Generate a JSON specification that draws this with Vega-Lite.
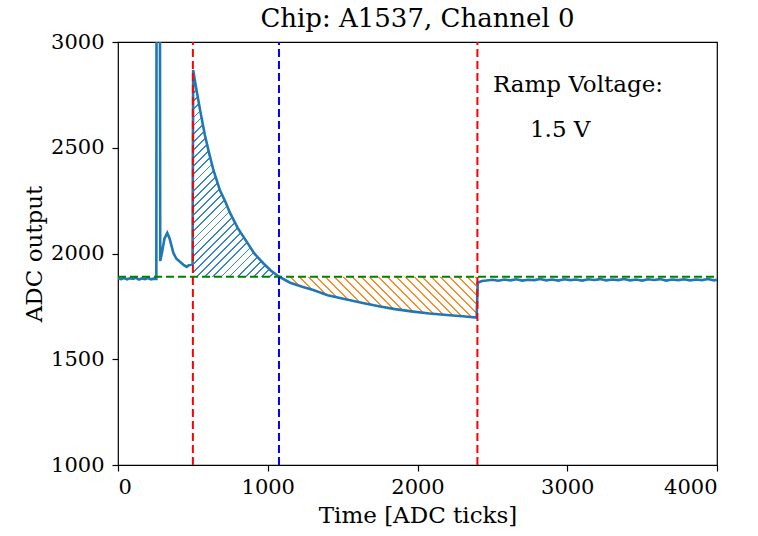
{
  "$schema": "https://vega.github.io/schema/vega-lite/v6.json",
  "width": 599,
  "height": 423,
  "autosize": {"type": "none"},
  "padding": {"left": 118, "top": 42, "right": 41, "bottom": 71},
  "background": "white",
  "config": {
    "font": "DejaVu Serif",
    "view": {"stroke": "black", "strokeWidth": 1.2},
    "axis": {"domain": false, "grid": false, "ticks": true, "tickColor": "black", "tickSize": 6, "tickWidth": 1.2,
      "labelFont": "DejaVu Serif", "labelFontSize": 21, "labelColor": "black",
      "titleFont": "DejaVu Serif", "titleFontSize": 23, "titleFontWeight": "normal", "titleColor": "black"},
    "title": {"font": "DejaVu Serif", "fontSize": 26, "fontWeight": "normal", "color": "black"}
  },
  "title": {"text": "Chip: A1537, Channel 0", "offset": 4, "dy": 5, "anchor": "middle"},
  "data": {"values": [
    {"t": 0, "v": 1882}, {"t": 20, "v": 1879}, {"t": 40, "v": 1884}, {"t": 60, "v": 1878}, {"t": 80, "v": 1883},
    {"t": 100, "v": 1880}, {"t": 120, "v": 1885}, {"t": 140, "v": 1877}, {"t": 160, "v": 1882}, {"t": 180, "v": 1879},
    {"t": 200, "v": 1884}, {"t": 220, "v": 1878}, {"t": 240, "v": 1881}, {"t": 256, "v": 1880},
    {"t": 258, "v": 3800}, {"t": 279, "v": 3800}, {"t": 282, "v": 1965},
    {"t": 295, "v": 2010}, {"t": 310, "v": 2070}, {"t": 329, "v": 2097}, {"t": 345, "v": 2070}, {"t": 370, "v": 2002},
    {"t": 390, "v": 1975}, {"t": 414, "v": 1961}, {"t": 440, "v": 1945}, {"t": 459, "v": 1937}, {"t": 474, "v": 1945},
    {"t": 498, "v": 1950},
    {"t": 502, "v": 2868}, {"t": 520, "v": 2790}, {"t": 548, "v": 2679}, {"t": 580, "v": 2560}, {"t": 610, "v": 2470},
    {"t": 637, "v": 2395}, {"t": 680, "v": 2300}, {"t": 720, "v": 2240}, {"t": 748, "v": 2192}, {"t": 800, "v": 2120},
    {"t": 859, "v": 2056}, {"t": 910, "v": 2000}, {"t": 970, "v": 1954}, {"t": 1020, "v": 1920}, {"t": 1075, "v": 1890},
    {"t": 1150, "v": 1862}, {"t": 1230, "v": 1843}, {"t": 1304, "v": 1827}, {"t": 1400, "v": 1803}, {"t": 1527, "v": 1783},
    {"t": 1650, "v": 1764}, {"t": 1750, "v": 1749}, {"t": 1850, "v": 1737}, {"t": 1972, "v": 1725}, {"t": 2080, "v": 1716},
    {"t": 2195, "v": 1709}, {"t": 2300, "v": 1703}, {"t": 2395, "v": 1697},
    {"t": 2402, "v": 1862}, {"t": 2430, "v": 1870}, {"t": 2460, "v": 1872}, {"t": 2500, "v": 1876}, {"t": 2540, "v": 1871},
    {"t": 2580, "v": 1877}, {"t": 2620, "v": 1873}, {"t": 2660, "v": 1878}, {"t": 2700, "v": 1872}, {"t": 2740, "v": 1876},
    {"t": 2780, "v": 1874}, {"t": 2820, "v": 1879}, {"t": 2860, "v": 1873}, {"t": 2900, "v": 1877}, {"t": 2940, "v": 1872},
    {"t": 2980, "v": 1878}, {"t": 3020, "v": 1874}, {"t": 3060, "v": 1877}, {"t": 3100, "v": 1872}, {"t": 3140, "v": 1878},
    {"t": 3180, "v": 1875}, {"t": 3220, "v": 1879}, {"t": 3260, "v": 1873}, {"t": 3300, "v": 1877}, {"t": 3340, "v": 1874},
    {"t": 3380, "v": 1879}, {"t": 3420, "v": 1873}, {"t": 3460, "v": 1877}, {"t": 3500, "v": 1872}, {"t": 3540, "v": 1878},
    {"t": 3580, "v": 1875}, {"t": 3620, "v": 1879}, {"t": 3660, "v": 1872}, {"t": 3700, "v": 1877}, {"t": 3740, "v": 1874},
    {"t": 3780, "v": 1878}, {"t": 3820, "v": 1873}, {"t": 3860, "v": 1877}, {"t": 3900, "v": 1874}, {"t": 3940, "v": 1879},
    {"t": 3980, "v": 1873}, {"t": 4000, "v": 1876}
  ]},
  "encoding": {
    "x": {"field": "t", "type": "quantitative", "scale": {"domain": [0, 4000], "nice": false, "zero": false},
      "axis": {"title": "Time [ADC ticks]", "values": [0, 1000, 2000, 3000, 4000], "format": "d", "labelPadding": 5, "titlePadding": 7}},
    "y": {"field": "v", "type": "quantitative", "scale": {"domain": [1000, 3000], "nice": false, "zero": false},
      "axis": {"title": "ADC output", "values": [1000, 1500, 2000, 2500, 3000], "format": "d", "labelPadding": 8, "titlePadding": 4}}
  },
  "layer": [
    {
      "transform": [{"filter": "datum.t >= 502 && datum.t <= 1075"}],
      "mark": {"type": "area", "clip": true, "strokeWidth": 0,
        "fill": {"gradient": "linear", "x1": 0, "y1": 0, "x2": 0.501, "y2": 1.207, "stops": [
{"offset":0,"color":"transparent"},{"offset":0.0217,"color":"transparent"},{"offset":0.0217,"color":"#3a87bf"},{"offset":0.0278,"color":"#3a87bf"},
{"offset":0.0278,"color":"transparent"},{"offset":0.0494,"color":"transparent"},{"offset":0.0494,"color":"#3a87bf"},{"offset":0.0556,"color":"#3a87bf"},
{"offset":0.0556,"color":"transparent"},{"offset":0.0772,"color":"transparent"},{"offset":0.0772,"color":"#3a87bf"},{"offset":0.0833,"color":"#3a87bf"},
{"offset":0.0833,"color":"transparent"},{"offset":0.105,"color":"transparent"},{"offset":0.105,"color":"#3a87bf"},{"offset":0.1111,"color":"#3a87bf"},
{"offset":0.1111,"color":"transparent"},{"offset":0.1328,"color":"transparent"},{"offset":0.1328,"color":"#3a87bf"},{"offset":0.1389,"color":"#3a87bf"},
{"offset":0.1389,"color":"transparent"},{"offset":0.1606,"color":"transparent"},{"offset":0.1606,"color":"#3a87bf"},{"offset":0.1667,"color":"#3a87bf"},
{"offset":0.1667,"color":"transparent"},{"offset":0.1883,"color":"transparent"},{"offset":0.1883,"color":"#3a87bf"},{"offset":0.1944,"color":"#3a87bf"},
{"offset":0.1944,"color":"transparent"},{"offset":0.2161,"color":"transparent"},{"offset":0.2161,"color":"#3a87bf"},{"offset":0.2222,"color":"#3a87bf"},
{"offset":0.2222,"color":"transparent"},{"offset":0.2439,"color":"transparent"},{"offset":0.2439,"color":"#3a87bf"},{"offset":0.25,"color":"#3a87bf"},
{"offset":0.25,"color":"transparent"},{"offset":0.2717,"color":"transparent"},{"offset":0.2717,"color":"#3a87bf"},{"offset":0.2778,"color":"#3a87bf"},
{"offset":0.2778,"color":"transparent"},{"offset":0.2994,"color":"transparent"},{"offset":0.2994,"color":"#3a87bf"},{"offset":0.3056,"color":"#3a87bf"},
{"offset":0.3056,"color":"transparent"},{"offset":0.3272,"color":"transparent"},{"offset":0.3272,"color":"#3a87bf"},{"offset":0.3333,"color":"#3a87bf"},
{"offset":0.3333,"color":"transparent"},{"offset":0.355,"color":"transparent"},{"offset":0.355,"color":"#3a87bf"},{"offset":0.3611,"color":"#3a87bf"},
{"offset":0.3611,"color":"transparent"},{"offset":0.3828,"color":"transparent"},{"offset":0.3828,"color":"#3a87bf"},{"offset":0.3889,"color":"#3a87bf"},
{"offset":0.3889,"color":"transparent"},{"offset":0.4106,"color":"transparent"},{"offset":0.4106,"color":"#3a87bf"},{"offset":0.4167,"color":"#3a87bf"},
{"offset":0.4167,"color":"transparent"},{"offset":0.4383,"color":"transparent"},{"offset":0.4383,"color":"#3a87bf"},{"offset":0.4444,"color":"#3a87bf"},
{"offset":0.4444,"color":"transparent"},{"offset":0.4661,"color":"transparent"},{"offset":0.4661,"color":"#3a87bf"},{"offset":0.4722,"color":"#3a87bf"},
{"offset":0.4722,"color":"transparent"},{"offset":0.4939,"color":"transparent"},{"offset":0.4939,"color":"#3a87bf"},{"offset":0.5,"color":"#3a87bf"},
{"offset":0.5,"color":"transparent"},{"offset":0.5217,"color":"transparent"},{"offset":0.5217,"color":"#3a87bf"},{"offset":0.5278,"color":"#3a87bf"},
{"offset":0.5278,"color":"transparent"},{"offset":0.5494,"color":"transparent"},{"offset":0.5494,"color":"#3a87bf"},{"offset":0.5556,"color":"#3a87bf"},
{"offset":0.5556,"color":"transparent"},{"offset":0.5772,"color":"transparent"},{"offset":0.5772,"color":"#3a87bf"},{"offset":0.5833,"color":"#3a87bf"},
{"offset":0.5833,"color":"transparent"},{"offset":0.605,"color":"transparent"},{"offset":0.605,"color":"#3a87bf"},{"offset":0.6111,"color":"#3a87bf"},
{"offset":0.6111,"color":"transparent"},{"offset":0.6328,"color":"transparent"},{"offset":0.6328,"color":"#3a87bf"},{"offset":0.6389,"color":"#3a87bf"},
{"offset":0.6389,"color":"transparent"},{"offset":0.6606,"color":"transparent"},{"offset":0.6606,"color":"#3a87bf"},{"offset":0.6667,"color":"#3a87bf"},
{"offset":0.6667,"color":"transparent"},{"offset":0.6883,"color":"transparent"},{"offset":0.6883,"color":"#3a87bf"},{"offset":0.6944,"color":"#3a87bf"},
{"offset":0.6944,"color":"transparent"},{"offset":0.7161,"color":"transparent"},{"offset":0.7161,"color":"#3a87bf"},{"offset":0.7222,"color":"#3a87bf"},
{"offset":0.7222,"color":"transparent"},{"offset":0.7439,"color":"transparent"},{"offset":0.7439,"color":"#3a87bf"},{"offset":0.75,"color":"#3a87bf"},
{"offset":0.75,"color":"transparent"},{"offset":0.7717,"color":"transparent"},{"offset":0.7717,"color":"#3a87bf"},{"offset":0.7778,"color":"#3a87bf"},
{"offset":0.7778,"color":"transparent"},{"offset":0.7994,"color":"transparent"},{"offset":0.7994,"color":"#3a87bf"},{"offset":0.8056,"color":"#3a87bf"},
{"offset":0.8056,"color":"transparent"},{"offset":0.8272,"color":"transparent"},{"offset":0.8272,"color":"#3a87bf"},{"offset":0.8333,"color":"#3a87bf"},
{"offset":0.8333,"color":"transparent"},{"offset":0.855,"color":"transparent"},{"offset":0.855,"color":"#3a87bf"},{"offset":0.8611,"color":"#3a87bf"},
{"offset":0.8611,"color":"transparent"},{"offset":0.8828,"color":"transparent"},{"offset":0.8828,"color":"#3a87bf"},{"offset":0.8889,"color":"#3a87bf"},
{"offset":0.8889,"color":"transparent"},{"offset":0.9106,"color":"transparent"},{"offset":0.9106,"color":"#3a87bf"},{"offset":0.9167,"color":"#3a87bf"},
{"offset":0.9167,"color":"transparent"},{"offset":0.9383,"color":"transparent"},{"offset":0.9383,"color":"#3a87bf"},{"offset":0.9444,"color":"#3a87bf"},
{"offset":0.9444,"color":"transparent"},{"offset":0.9661,"color":"transparent"},{"offset":0.9661,"color":"#3a87bf"},{"offset":0.9722,"color":"#3a87bf"},
{"offset":0.9722,"color":"transparent"},{"offset":0.9939,"color":"transparent"},{"offset":0.9939,"color":"#3a87bf"},{"offset":1,"color":"#3a87bf"}
        ]}},
      "encoding": {"y2": {"datum": 1890}}
    },
    {
      "transform": [{"filter": "datum.t >= 1075 && datum.t <= 2395"}],
      "mark": {"type": "area", "clip": true, "strokeWidth": 0,
        "fill": {"gradient": "linear", "x1": 0, "y1": 1, "x2": 1.543, "y2": 0.6815, "stops": [
{"offset":0,"color":"transparent"},{"offset":0.0217,"color":"transparent"},{"offset":0.0217,"color":"#ff8c26"},{"offset":0.0278,"color":"#ff8c26"},
{"offset":0.0278,"color":"transparent"},{"offset":0.0494,"color":"transparent"},{"offset":0.0494,"color":"#ff8c26"},{"offset":0.0556,"color":"#ff8c26"},
{"offset":0.0556,"color":"transparent"},{"offset":0.0772,"color":"transparent"},{"offset":0.0772,"color":"#ff8c26"},{"offset":0.0833,"color":"#ff8c26"},
{"offset":0.0833,"color":"transparent"},{"offset":0.105,"color":"transparent"},{"offset":0.105,"color":"#ff8c26"},{"offset":0.1111,"color":"#ff8c26"},
{"offset":0.1111,"color":"transparent"},{"offset":0.1328,"color":"transparent"},{"offset":0.1328,"color":"#ff8c26"},{"offset":0.1389,"color":"#ff8c26"},
{"offset":0.1389,"color":"transparent"},{"offset":0.1606,"color":"transparent"},{"offset":0.1606,"color":"#ff8c26"},{"offset":0.1667,"color":"#ff8c26"},
{"offset":0.1667,"color":"transparent"},{"offset":0.1883,"color":"transparent"},{"offset":0.1883,"color":"#ff8c26"},{"offset":0.1944,"color":"#ff8c26"},
{"offset":0.1944,"color":"transparent"},{"offset":0.2161,"color":"transparent"},{"offset":0.2161,"color":"#ff8c26"},{"offset":0.2222,"color":"#ff8c26"},
{"offset":0.2222,"color":"transparent"},{"offset":0.2439,"color":"transparent"},{"offset":0.2439,"color":"#ff8c26"},{"offset":0.25,"color":"#ff8c26"},
{"offset":0.25,"color":"transparent"},{"offset":0.2717,"color":"transparent"},{"offset":0.2717,"color":"#ff8c26"},{"offset":0.2778,"color":"#ff8c26"},
{"offset":0.2778,"color":"transparent"},{"offset":0.2994,"color":"transparent"},{"offset":0.2994,"color":"#ff8c26"},{"offset":0.3056,"color":"#ff8c26"},
{"offset":0.3056,"color":"transparent"},{"offset":0.3272,"color":"transparent"},{"offset":0.3272,"color":"#ff8c26"},{"offset":0.3333,"color":"#ff8c26"},
{"offset":0.3333,"color":"transparent"},{"offset":0.355,"color":"transparent"},{"offset":0.355,"color":"#ff8c26"},{"offset":0.3611,"color":"#ff8c26"},
{"offset":0.3611,"color":"transparent"},{"offset":0.3828,"color":"transparent"},{"offset":0.3828,"color":"#ff8c26"},{"offset":0.3889,"color":"#ff8c26"},
{"offset":0.3889,"color":"transparent"},{"offset":0.4106,"color":"transparent"},{"offset":0.4106,"color":"#ff8c26"},{"offset":0.4167,"color":"#ff8c26"},
{"offset":0.4167,"color":"transparent"},{"offset":0.4383,"color":"transparent"},{"offset":0.4383,"color":"#ff8c26"},{"offset":0.4444,"color":"#ff8c26"},
{"offset":0.4444,"color":"transparent"},{"offset":0.4661,"color":"transparent"},{"offset":0.4661,"color":"#ff8c26"},{"offset":0.4722,"color":"#ff8c26"},
{"offset":0.4722,"color":"transparent"},{"offset":0.4939,"color":"transparent"},{"offset":0.4939,"color":"#ff8c26"},{"offset":0.5,"color":"#ff8c26"},
{"offset":0.5,"color":"transparent"},{"offset":0.5217,"color":"transparent"},{"offset":0.5217,"color":"#ff8c26"},{"offset":0.5278,"color":"#ff8c26"},
{"offset":0.5278,"color":"transparent"},{"offset":0.5494,"color":"transparent"},{"offset":0.5494,"color":"#ff8c26"},{"offset":0.5556,"color":"#ff8c26"},
{"offset":0.5556,"color":"transparent"},{"offset":0.5772,"color":"transparent"},{"offset":0.5772,"color":"#ff8c26"},{"offset":0.5833,"color":"#ff8c26"},
{"offset":0.5833,"color":"transparent"},{"offset":0.605,"color":"transparent"},{"offset":0.605,"color":"#ff8c26"},{"offset":0.6111,"color":"#ff8c26"},
{"offset":0.6111,"color":"transparent"},{"offset":0.6328,"color":"transparent"},{"offset":0.6328,"color":"#ff8c26"},{"offset":0.6389,"color":"#ff8c26"},
{"offset":0.6389,"color":"transparent"},{"offset":0.6606,"color":"transparent"},{"offset":0.6606,"color":"#ff8c26"},{"offset":0.6667,"color":"#ff8c26"},
{"offset":0.6667,"color":"transparent"},{"offset":0.6883,"color":"transparent"},{"offset":0.6883,"color":"#ff8c26"},{"offset":0.6944,"color":"#ff8c26"},
{"offset":0.6944,"color":"transparent"},{"offset":0.7161,"color":"transparent"},{"offset":0.7161,"color":"#ff8c26"},{"offset":0.7222,"color":"#ff8c26"},
{"offset":0.7222,"color":"transparent"},{"offset":0.7439,"color":"transparent"},{"offset":0.7439,"color":"#ff8c26"},{"offset":0.75,"color":"#ff8c26"},
{"offset":0.75,"color":"transparent"},{"offset":0.7717,"color":"transparent"},{"offset":0.7717,"color":"#ff8c26"},{"offset":0.7778,"color":"#ff8c26"},
{"offset":0.7778,"color":"transparent"},{"offset":1,"color":"transparent"}
        ]}},
      "encoding": {"y2": {"datum": 1890}}
    },
    {
      "mark": {"type": "line", "clip": true, "color": "#1f77b4", "strokeWidth": 2.6}
    },
    {
      "transform": [{"filter": "datum.t == 0"}],
      "mark": {"type": "rule", "color": "#008000", "strokeWidth": 2, "strokeDash": [8, 4]},
      "encoding": {"y": {"datum": 1890}, "x": {"datum": 0}, "x2": {"datum": 4000}}
    },
    {
      "transform": [{"filter": "datum.t == 0"}],
      "mark": {"type": "rule", "color": "#ff0000", "strokeWidth": 2, "strokeDash": [8, 4]},
      "encoding": {"x": {"datum": 500}, "y": {"datum": 1000}, "y2": {"datum": 3000}}
    },
    {
      "transform": [{"filter": "datum.t == 0"}],
      "mark": {"type": "rule", "color": "#0000ff", "strokeWidth": 2, "strokeDash": [8, 4]},
      "encoding": {"x": {"datum": 1075}, "y": {"datum": 1000}, "y2": {"datum": 3000}}
    },
    {
      "transform": [{"filter": "datum.t == 0"}],
      "mark": {"type": "rule", "color": "#ff0000", "strokeWidth": 2, "strokeDash": [8, 4]},
      "encoding": {"x": {"datum": 2400}, "y": {"datum": 1000}, "y2": {"datum": 3000}}
    },
    {
      "transform": [{"filter": "datum.t == 0"}],
      "mark": {"type": "text", "align": "left", "baseline": "middle", "fontSize": 23, "font": "DejaVu Serif", "color": "black", "text": "Ramp Voltage:"},
      "encoding": {"x": {"datum": 2504}, "y": {"datum": 2797}}
    },
    {
      "transform": [{"filter": "datum.t == 0"}],
      "mark": {"type": "text", "align": "left", "baseline": "middle", "fontSize": 23, "font": "DejaVu Serif", "color": "black", "text": "1.5 V"},
      "encoding": {"x": {"datum": 2751}, "y": {"datum": 2584}}
    }
  ]
}
